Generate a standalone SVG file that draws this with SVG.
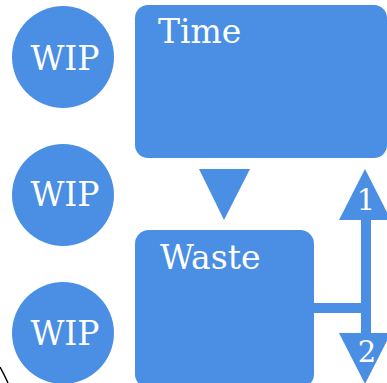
<svg xmlns="http://www.w3.org/2000/svg" width="387" height="383" viewBox="0 0 387 383">
<style>
.f{fill:#4A8FE3}
.t{font-family:"DejaVu Serif",serif;font-size:33px;fill:#ffffff}
.n{font-family:"DejaVu Serif",serif;font-size:29px;fill:#ffffff;text-anchor:middle}
</style>
<rect width="387" height="383" fill="#ffffff"/>
<path d="M0,367 Q4,374 8,383" fill="none" stroke="#000000" stroke-width="1.5"/>
<g id="wip1"><circle class="f" cx="63" cy="57" r="51"/><text class="t" x="65" y="70" text-anchor="middle">WIP</text></g>
<g id="wip2"><circle class="f" cx="63" cy="195" r="51"/><text class="t" x="65" y="206" text-anchor="middle">WIP</text></g>
<g id="wip3"><circle class="f" cx="63" cy="333" r="51"/><text class="t" x="65" y="345" text-anchor="middle">WIP</text></g>
<g id="time"><rect class="f" x="135" y="5" width="252" height="153" rx="13"/><text class="t" x="158" y="43">Time</text></g>
<g id="waste"><rect class="f" x="135" y="230" width="179" height="158" rx="14"/><text class="t" x="160" y="269">Waste</text></g>
<g id="connectors">
<polygon class="f" points="199,169 250,169 224,220"/>
<rect class="f" x="312" y="303" width="54" height="10"/>
<rect class="f" x="361" y="215" width="10" height="122"/>
<polygon class="f" points="365,169 391,220 339,220"/>
<polygon class="f" points="339,333 391,333 365,384"/>
<text class="n" x="366" y="210">1</text>
<text class="n" x="367" y="362">2</text>
</g>
</svg>
